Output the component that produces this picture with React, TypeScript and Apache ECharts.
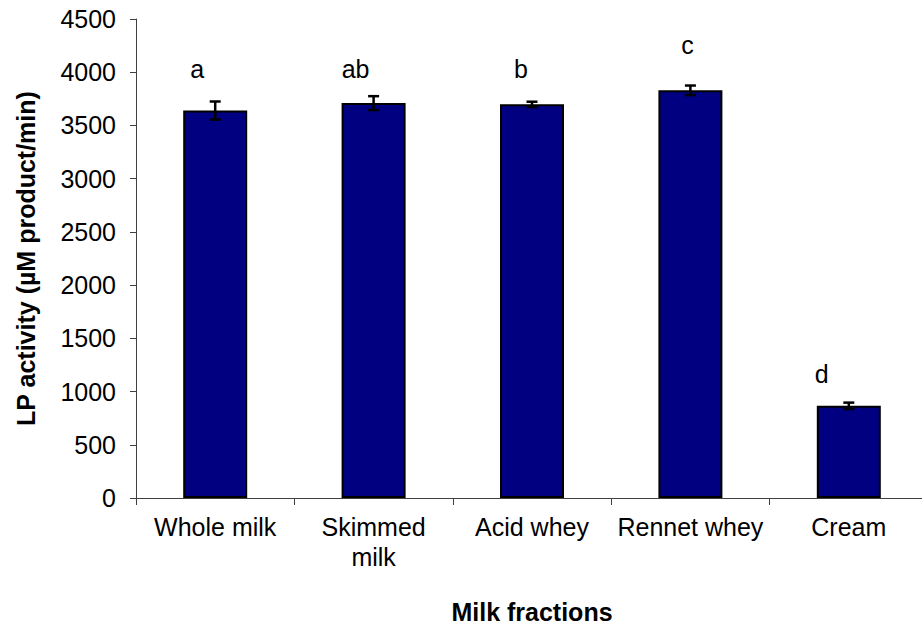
import React, { useEffect, useRef } from "react";
import * as echarts from "echarts";

const categories = ["Whole milk", "Skimmed\nmilk", "Acid whey", "Rennet whey", "Cream"];
const activity = [3640, 3710, 3698, 3830, 866];
const errors = [85, 65, 25, 45, 30];
const letters = ["a", "ab", "b", "c", "d"];
const letterHeights = [4030, 4030, 4030, 4256, 1165];
const yTicks = [0, 500, 1000, 1500, 2000, 2500, 3000, 3500, 4000, 4500];

// pixel x-offsets of the significance letters (style only)
const letterDx = [-18, -18, -11, -3, -27];

export default function App() {
  const ref = useRef<HTMLDivElement>(null);
  useEffect(() => {
    if (!ref.current) return;
    const chart = echarts.init(ref.current, undefined, { renderer: "svg" });
    const font = "Arial, 'Liberation Sans', sans-serif";
    chart.setOption({
      animation: false,
      textStyle: { fontFamily: font },
      grid: { left: 136, top: 19, width: 792, bottom: 128, outerBoundsMode: "none", containLabel: false },
      xAxis: {
        type: "category",
        data: categories,
        name: "Milk fractions",
        nameLocation: "middle",
        nameGap: 101,
        nameTextStyle: { fontFamily: font, fontSize: 25, fontWeight: "bold", color: "#000" },
        axisLine: { lineStyle: { color: "#404040", width: 1 } },
        axisTick: { show: true, length: 7, inside: false, lineStyle: { color: "#404040" } },
        axisLabel: { fontFamily: font, fontSize: 25, color: "#000", margin: 14, lineHeight: 30, interval: 0 },
      },
      yAxis: {
        type: "value",
        min: 0,
        max: 4500,
        interval: 500,
        name: "LP activity (µM product/min)",
        nameLocation: "middle",
        nameGap: 98,
        nameRotate: 90,
        nameTextStyle: { fontFamily: font, fontSize: 25, fontWeight: "bold", color: "#000" },
        axisLine: { show: true, lineStyle: { color: "#404040", width: 1 } },
        axisTick: { show: true, length: 6, lineStyle: { color: "#404040" } },
        axisLabel: {
          fontFamily: font,
          fontSize: 25,
          color: "#000",
          margin: 20,
          formatter: (v: number) => (yTicks.includes(v) ? String(v) : ""),
        },
        splitLine: { show: false },
      },
      series: [
        {
          type: "bar",
          data: activity,
          barWidth: 64,
          itemStyle: { color: "#000080", borderColor: "#000", borderWidth: 2 },
        },
        {
          type: "custom",
          data: activity.map((v, i) => [i, v - errors[i], v + errors[i]]),
          renderItem: (params: any, api: any) => {
            const i = api.value(0);
            const lo = api.coord([i, api.value(1)]);
            const hi = api.coord([i, api.value(2)]);
            const hw = 5.5;
            const style = { stroke: "#000", lineWidth: 2.5 };
            return {
              type: "group",
              children: [
                { type: "line", shape: { x1: lo[0], y1: lo[1], x2: hi[0], y2: hi[1] }, style },
                { type: "line", shape: { x1: lo[0] - hw, y1: lo[1], x2: lo[0] + hw, y2: lo[1] }, style },
                { type: "line", shape: { x1: hi[0] - hw, y1: hi[1], x2: hi[0] + hw, y2: hi[1] }, style },
              ],
            };
          },
          z: 5,
        },
        {
          type: "custom",
          data: letterHeights.map((v, i) => [i, v]),
          renderItem: (params: any, api: any) => {
            const i = api.value(0);
            const p = api.coord([i, api.value(1)]);
            return {
              type: "text",
              x: p[0] + letterDx[i],
              y: p[1],
              style: {
                text: letters[i],
                fontFamily: font,
                fontSize: 25,
                fill: "#000",
                align: "center",
                verticalAlign: "middle",
              },
            };
          },
          z: 6,
        },
      ],
    });
    return () => chart.dispose();
  }, []);
  return (
    <div
      ref={ref}
      style={{ position: "absolute", left: 0, top: 0, width: 922, height: 626, background: "#fff" }}
    />
  );
}
